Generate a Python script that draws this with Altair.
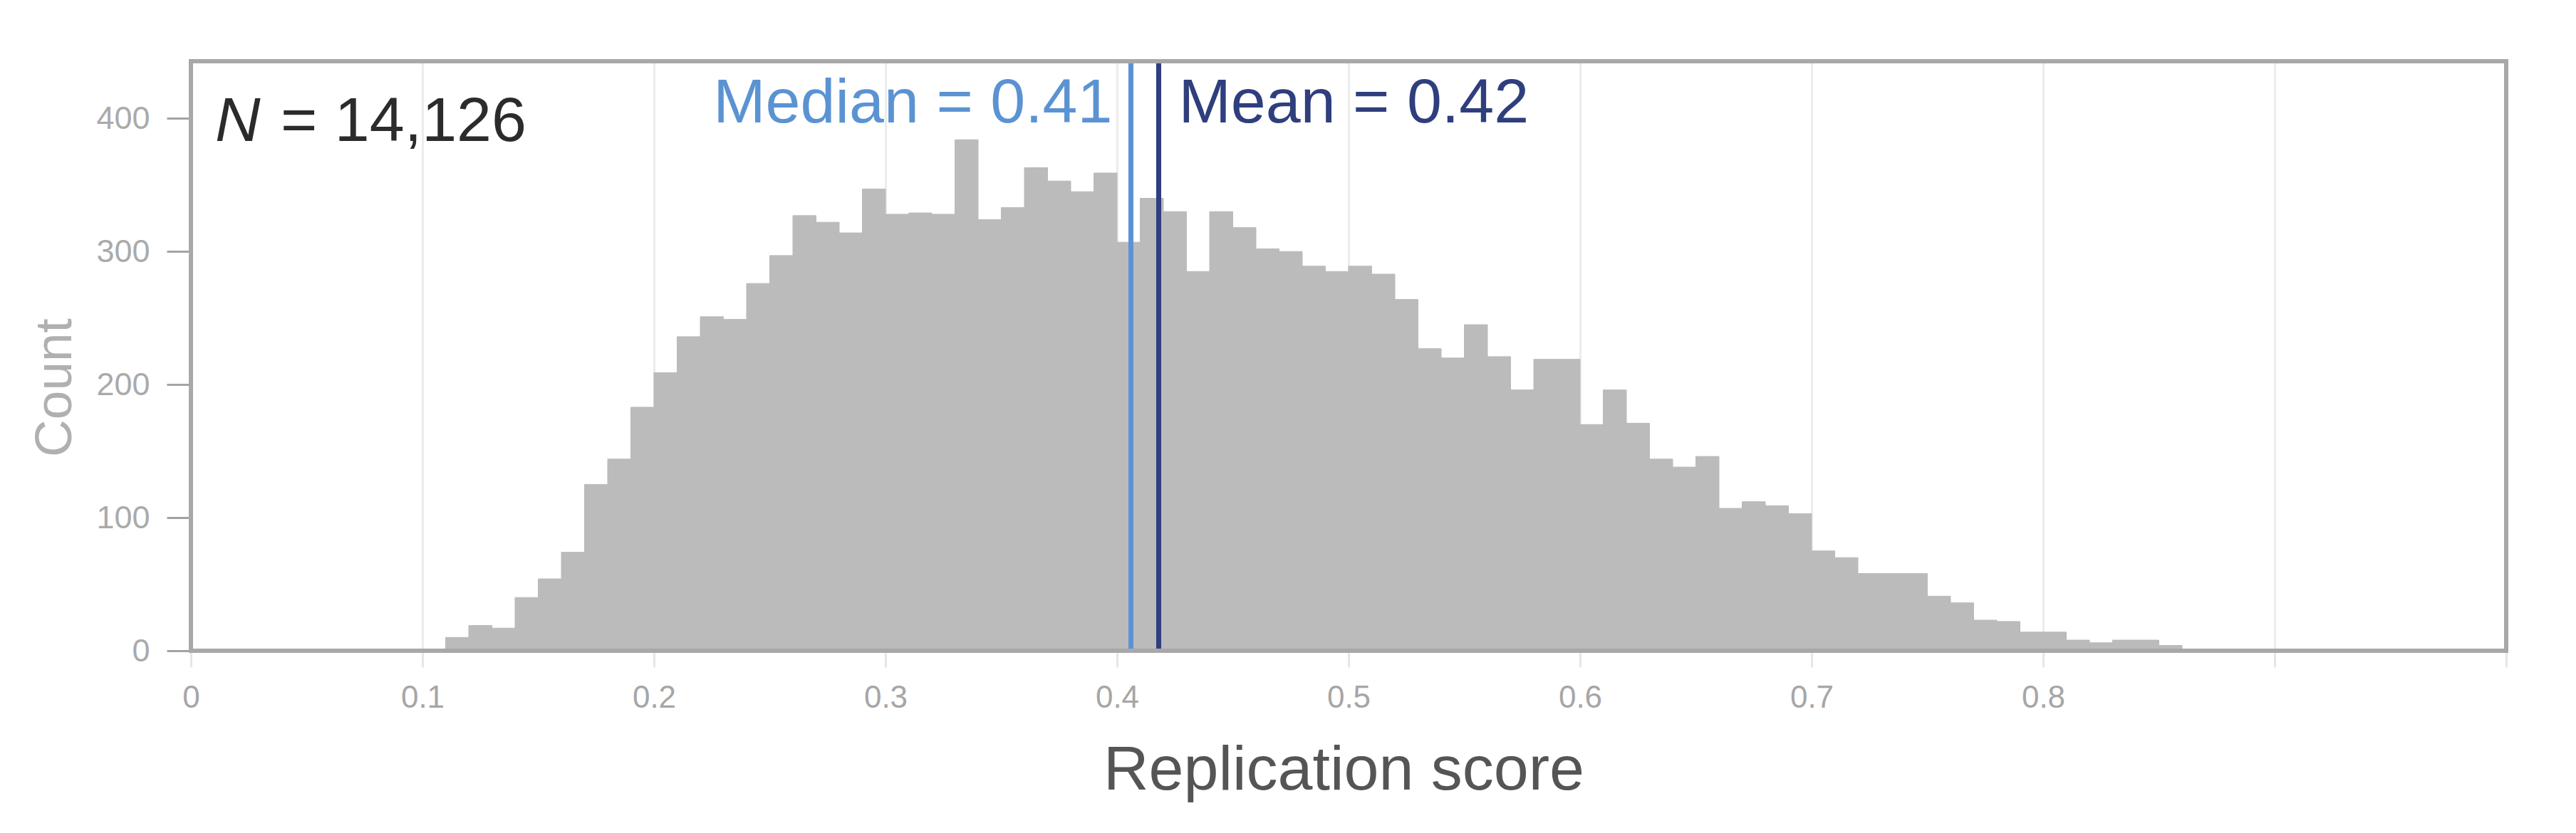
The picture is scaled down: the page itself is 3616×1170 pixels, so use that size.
import altair as alt
import pandas as pd

# ---- data ----
bin_start = [round(0.01 * i, 2) for i in range(100)]
counts = [0] * 10 + [
    1, 10, 19, 17, 40, 54, 74, 125, 144, 183,          # 0.10 - 0.19
    209, 236, 251, 249, 276, 297, 327, 322, 314, 347,  # 0.20 - 0.29
    328, 329, 328, 384, 324, 333, 363, 353, 345, 359,  # 0.30 - 0.39
    307, 340, 330, 285, 330, 318, 302, 300, 289, 285,  # 0.40 - 0.49
    289, 283, 264, 227, 220, 245, 221, 196, 219, 219,  # 0.50 - 0.59
    170, 196, 171, 144, 138, 146, 107, 112, 109, 103,  # 0.60 - 0.69
    75, 70, 58, 58, 58, 41, 36, 23, 22, 14,            # 0.70 - 0.79
    14, 8, 6, 8, 8, 4, 1,                              # 0.80 - 0.86
]
counts += [0] * (100 - len(counts))

median_val = 0.406
mean_val = 0.418
median_label = "Median = 0.41"
mean_label = "Mean = 0.42"
n_text = "= 14,126"

x_ticks = [0, 0.1, 0.2, 0.3, 0.4, 0.5, 0.6, 0.7, 0.8, 0.9, 1.0]
y_ticks = [0, 100, 200, 300, 400]

W, H = 3250, 828
FONT = "Liberation Sans"

df = pd.DataFrame({
    "start": bin_start,
    "end": [round(s + 0.01, 2) for s in bin_start],
    "count": counts,
})

x_scale = alt.Scale(domain=[0, 1], nice=False, zero=False)
y_scale = alt.Scale(domain=[0, 443], nice=False)

bars = alt.Chart(df).mark_rect(
    color="#bbbbbb", stroke="#bbbbbb", strokeWidth=1
).encode(
    x=alt.X(
        "start:Q", scale=x_scale,
        axis=alt.Axis(
            values=x_ticks, format="~g",
            labelExpr="datum.value > 0.85 ? '' : datum.label",
            grid=True, gridColor="#ececec", gridWidth=3,
            ticks=True, tickColor="#e6e6e6", tickSize=23, tickWidth=3,
            domain=False,
            labelColor="#a6a6a6", labelFontSize=44, labelFont=FONT,
            labelBaseline="alphabetic", labelPadding=56,
            labelFlush=False, labelOverlap=False,
            title="Replication score", titleFontSize=88, titleFont=FONT,
            titleColor="#555555", titleFontWeight="normal",
            titleBaseline="alphabetic", titleX=1618, titleY=194,
        ),
    ),
    x2="end:Q",
    y=alt.Y(
        "count:Q", scale=y_scale,
        axis=alt.Axis(
            values=y_ticks, grid=False, domain=False,
            ticks=True, tickColor="#a3a3a3", tickSize=34, tickWidth=3,
            labelColor="#aaaaaa", labelFontSize=45, labelFont=FONT,
            labelPadding=24,
            title="Count", titleFontSize=73, titleFont=FONT,
            titleColor="#b0b0b0", titleFontWeight="normal",
            titleAngle=270, titleBaseline="alphabetic", titleAlign="center",
            titleX=-169, titleY=458,
        ),
    ),
    y2=alt.datum(0),
)

one = alt.Data(values=[{}])

median_rule = alt.Chart(one).mark_rule(color="#5b93d2", strokeWidth=7).encode(
    x=alt.datum(median_val)
)
mean_rule = alt.Chart(one).mark_rule(color="#2f3e7c", strokeWidth=7).encode(
    x=alt.datum(mean_val)
)

median_text = alt.Chart(one).mark_text(
    text=median_label, align="right", baseline="alphabetic", dx=-26,
    fontSize=88, font=FONT, color="#5b93d2",
).encode(x=alt.datum(median_val), y=alt.value(86))

mean_text = alt.Chart(one).mark_text(
    text=mean_label, align="left", baseline="alphabetic", dx=28,
    fontSize=88, font=FONT, color="#2f3e7c",
).encode(x=alt.datum(mean_val), y=alt.value(86))

n_italic = alt.Chart(one).mark_text(
    text="N", align="left", baseline="alphabetic", fontStyle="italic",
    fontSize=88, font=FONT, color="#2b2b2b",
).encode(x=alt.value(34), y=alt.value(112))

n_rest = alt.Chart(one).mark_text(
    text=n_text, align="left", baseline="alphabetic",
    fontSize=88, font=FONT, color="#2b2b2b",
).encode(x=alt.value(126), y=alt.value(112))

frame = alt.Chart(one).mark_rect(
    fill="transparent", stroke="#a8a8a8", strokeWidth=6
).encode(
    x=alt.value(0), x2=alt.value(W), y=alt.value(0), y2=alt.value(H)
)

chart = alt.layer(
    bars, median_rule, mean_rule, median_text, mean_text, n_italic, n_rest, frame
).properties(
    width=W, height=H,
    padding={"left": 260, "top": 78, "right": 90, "bottom": 248},
    autosize=alt.AutoSizeParams(type="none"),
    background="white",
).configure_view(strokeWidth=0).configure(font=FONT)

chart.save("out.html", embed_options={"renderer": "svg", "actions": False})
